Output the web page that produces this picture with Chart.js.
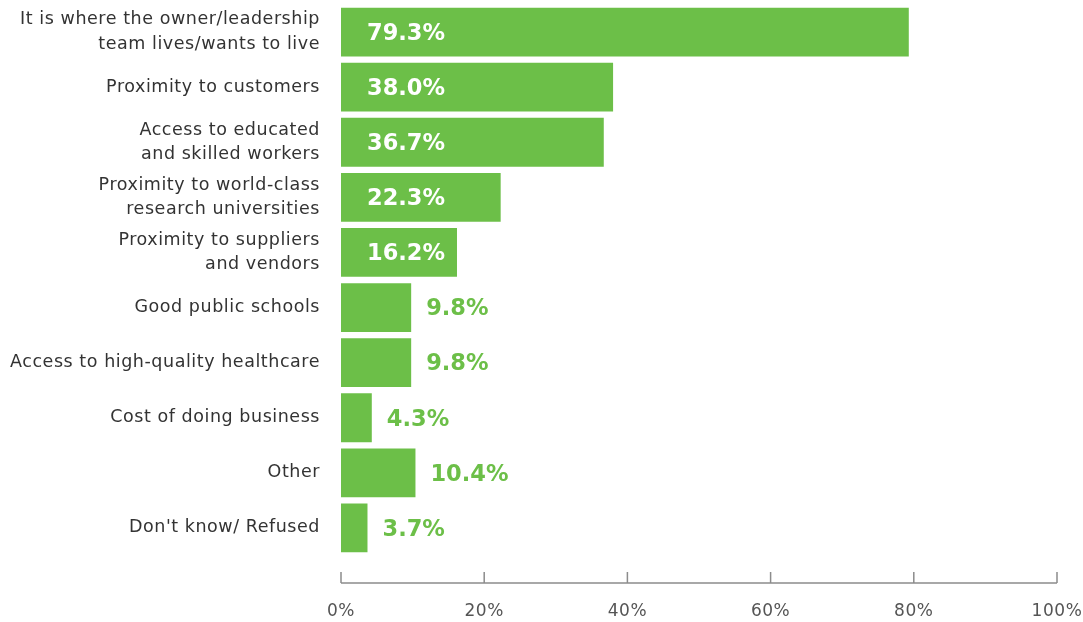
<!DOCTYPE html>
<html>
<head>
<meta charset="utf-8">
<script src="https://cdn.jsdelivr.net/npm/chart.js@4.4.1/dist/chart.umd.min.js"></script>
<style>
  html, body { margin: 0; padding: 0; background: #fff; overflow: hidden; }
  #wrap { position: relative; width: 1083px; height: 622px; }
</style>
</head>
<body>
<div id="wrap"><canvas id="chart"></canvas></div>
<script>
const CATEGORIES = [
  ['It is where the owner/leadership', 'team lives/wants to live'],
  'Proximity to customers',
  ['Access to educated', 'and skilled workers'],
  ['Proximity to world-class', 'research universities'],
  ['Proximity to suppliers', 'and vendors'],
  'Good public schools',
  'Access to high-quality healthcare',
  'Cost of doing business',
  'Other',
  "Don't know/ Refused"
];
const VALUES = [79.3, 38.0, 36.7, 22.3, 16.2, 9.8, 9.8, 4.3, 10.4, 3.7];
const X_TICKS = [0, 20, 40, 60, 80, 100];

const GREEN = '#6cbf48';
const FONT = '"DejaVu Sans", sans-serif';

// axis text is set a bit wider than the font's default spacing
const wideText = {
  id: 'wideText',
  beforeDraw(chart) { chart.ctx.letterSpacing = '0.55px'; }
};

// value labels: white inside long bars, green just past the end of short ones
const valueLabels = {
  id: 'valueLabels',
  afterDatasetsDraw(chart) {
    const ctx = chart.ctx;
    const meta = chart.getDatasetMeta(0);
    ctx.save();
    ctx.letterSpacing = '0px';
    ctx.font = 'bold 22.5px ' + FONT;
    ctx.textBaseline = 'middle';
    ctx.textAlign = 'left';
    meta.data.forEach(function(bar, i) {
      const v = VALUES[i];
      const text = v.toFixed(1) + '%';
      if (v > 15) {
        ctx.fillStyle = '#ffffff';
        ctx.fillText(text, bar.base + 26, bar.y + 2);
      } else {
        ctx.fillStyle = GREEN;
        ctx.fillText(text, bar.x + 15, bar.y + 2);
      }
    });
    ctx.restore();
  }
};

// bottom axis line with upward tick marks, set a little below the bars
const axisLine = {
  id: 'axisLine',
  afterDraw(chart) {
    const ctx = chart.ctx;
    const x = chart.scales.x;
    const y = chart.chartArea.bottom + 27.5;
    ctx.save();
    ctx.strokeStyle = '#8c8c8c';
    ctx.lineWidth = 1.5;
    ctx.beginPath();
    ctx.moveTo(x.getPixelForValue(X_TICKS[0]), y);
    ctx.lineTo(x.getPixelForValue(X_TICKS[X_TICKS.length - 1]), y);
    X_TICKS.forEach(function(t) {
      const px = x.getPixelForValue(t);
      ctx.moveTo(px, y);
      ctx.lineTo(px, y - 11);
    });
    ctx.stroke();
    ctx.restore();
  }
};

new Chart(document.getElementById('chart'), {
  type: 'bar',
  data: {
    labels: CATEGORIES,
    datasets: [{
      data: VALUES,
      backgroundColor: GREEN,
      borderWidth: 0,
      categoryPercentage: 1,
      barPercentage: 0.885
    }]
  },
  options: {
    indexAxis: 'y',
    responsive: true,
    maintainAspectRatio: false,
    animation: false,
    layout: { padding: { top: 4.5, right: 26, left: 0, bottom: 0 } },
    plugins: { legend: { display: false }, tooltip: { enabled: false } },
    scales: {
      x: {
        min: 0,
        max: 100,
        afterBuildTicks: function(s) { s.ticks = X_TICKS.map(function(v) { return { value: v }; }); },
        afterFit: function(s) { s.height = 66.5; s.paddingLeft = 0; s.paddingRight = 0; },
        grid: { display: false, drawTicks: false },
        border: { display: false },
        ticks: {
          padding: 46,
          color: '#555',
          font: { family: FONT, size: 17 },
          maxRotation: 0,
          callback: function(v) { return v + '%'; }
        }
      },
      y: {
        afterFit: function(s) { s.width = 341; s.paddingTop = 0; s.paddingBottom = 0; },
        grid: { display: false, drawTicks: false },
        border: { display: false },
        ticks: {
          padding: 21,
          color: '#333',
          font: { family: FONT, size: 17.5, lineHeight: 1.4 },
          autoSkip: false
        }
      }
    }
  },
  plugins: [wideText, valueLabels, axisLine]
});
</script>
</body>
</html>
